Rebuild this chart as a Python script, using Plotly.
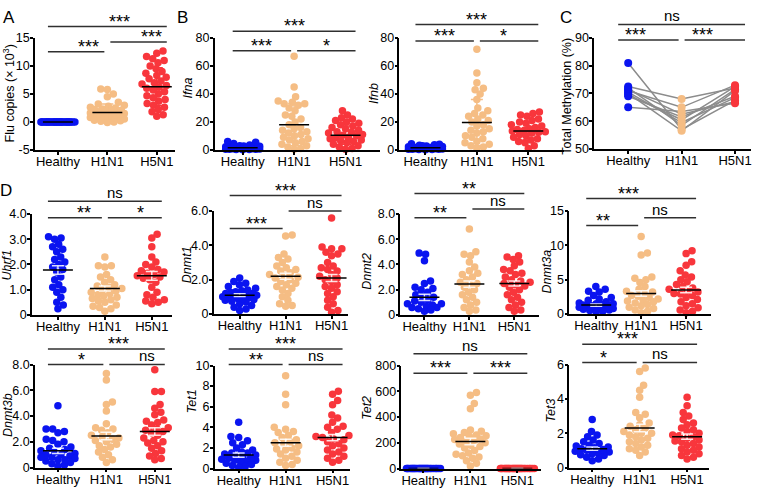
import math
import numpy as np
import plotly.graph_objects as go

W, H = 762, 493
FONT = "Liberation Sans, Arial, sans-serif"

groups = ["Healthy", "H1N1", "H5N1"]
colors = ["#0a14f0", "#f5bd84", "#f8363c"]

# ---- A: flu copies (x10^3)
flu_healthy = [0.0] * 30
flu_h1n1 = [5.9, 5.8, 5.0, 4.5, 3.5, 3.2, 3.0, 2.8, 2.6, 2.5, 2.3, 2.2, 2.0, 1.9, 1.8, 1.7, 1.5, 1.4,
            1.3, 1.2, 1.0, 0.9, 0.8, 0.7, 0.6, 0.5, 0.4, 0.3, 0.2, 0.1, 0.0, -0.1, 1.1, 1.6, 2.1]
flu_h5n1 = [12.7, 12.3, 11.7, 11.3, 11.0, 10.6, 10.0, 9.5, 9.0, 8.7, 8.3, 8.0, 7.7, 7.3, 7.0, 6.8, 6.5,
            6.2, 6.0, 5.7, 5.4, 5.0, 4.7, 4.3, 4.0, 3.7, 3.3, 3.0, 2.6, 2.2, 1.8, 1.3, 1.0]
flu_mean = [0.0, 1.7, 6.3]
flu_sd = [0.05, 1.5, 3.4]

# ---- B: Ifna / Ifnb
ifna_healthy = [0.5, 0.8, 1.0, 1.2, 1.5, 0.3, 0.6, 0.9, 1.1, 1.4, 1.8, 2.0, 2.5, 3.0, 3.5, 4.5, 5.5, 6.0,
                0.2, 0.4, 0.7, 1.3, 1.6, 2.2, 0.1, 0.5, 1.0, 2.8]
ifna_h1n1 = [67, 45, 38, 35, 34, 33, 33, 32, 30, 28, 25, 22, 20, 18, 15, 13, 12, 10, 9, 8, 7, 6, 5, 4,
             3, 2, 1, 0.5, 14, 11, 16, 24]
ifna_h5n1 = [28, 25, 23, 22, 21, 20, 19, 18, 17, 16, 15, 14, 13, 12, 11, 10, 9, 8, 7, 6, 5, 4, 3, 2, 1,
             0.5, 12.5, 10.5, 8.5, 6.5]
ifna_mean = [1.5, 18, 10.5]
ifna_sd = [1.2, 15, 6.5]

ifnb_healthy = [0.3, 0.5, 0.8, 1.0, 1.2, 1.5, 0.4, 0.7, 0.9, 1.1, 1.4, 1.7, 2.0, 2.4, 2.8, 3.2, 3.6, 4.0,
                4.3, 0.2, 0.6, 1.3, 1.9, 0.1, 0.5, 1.0, 2.2, 3.0]
ifnb_h1n1 = [72, 55, 48, 44, 43, 40, 36, 30, 28, 26, 25, 24, 22, 20, 18, 17, 15, 13, 12, 10, 9, 8, 6, 5,
             4, 3, 2, 1, 21, 14]
ifnb_h5n1 = [27, 26, 25, 24, 22, 21, 20, 19, 18, 17, 16, 15, 14, 13.5, 13, 12, 11, 10, 9, 8, 7, 6, 5, 3,
             1, 14.5, 12.5]
ifnb_mean = [1.5, 19.5, 13.5]
ifnb_sd = [1.0, 16.5, 6.5]

# ---- C: total methylation (%), paired
meth_healthy = [81.0, 72.5, 72.0, 71.5, 71.0, 70.5, 70.0, 69.5, 69.0, 65.0]
meth_h1n1 = [57.0, 68.0, 58.5, 62.5, 65.0, 59.5, 56.5, 60.5, 61.5, 63.5]
meth_h5n1 = [67.5, 72.0, 71.5, 67.0, 73.0, 68.5, 71.0, 72.5, 69.0, 66.5]

# ---- D: gene expression
uhrf1_healthy = [3.1, 3.05, 3.0, 2.8, 2.7, 2.6, 2.5, 2.3, 2.2, 2.1, 2.0, 1.9, 1.8, 1.7, 1.5, 1.4, 1.2,
                 1.1, 1.0, 0.9, 0.7, 0.5, 0.4, 0.25]
uhrf1_h1n1 = [2.3, 1.95, 1.95, 1.9, 1.6, 1.5, 1.4, 1.3, 1.2, 1.15, 1.1, 1.0, 0.95, 0.9, 0.85, 0.8, 0.75,
              0.7, 0.6, 0.55, 0.5, 0.4, 0.3, 0.25, 0.15, 1.05, 0.65, 0.35]
uhrf1_h5n1 = [3.2, 3.05, 2.7, 2.3, 2.1, 2.0, 1.9, 1.8, 1.7, 1.6, 1.55, 1.5, 1.45, 1.4, 1.3, 1.1, 0.9,
              0.8, 0.7, 0.6, 0.55, 0.5, 0.45, 1.65, 1.75]
uhrf1_mean = [1.78, 1.05, 1.55]
uhrf1_sem = [0.17, 0.1, 0.17]

dnmt1_healthy = [2.1, 1.9, 1.8, 1.7, 1.6, 1.5, 1.4, 1.35, 1.3, 1.25, 1.2, 1.15, 1.1, 1.05, 1.0, 0.95,
                 0.9, 0.85, 0.8, 0.75, 0.7, 0.6, 0.5, 0.4, 0.3, 0.2, 1.1, 1.0, 1.2, 0.9]
dnmt1_h1n1 = [4.6, 4.55, 3.5, 3.3, 3.2, 3.0, 2.8, 2.6, 2.5, 2.4, 2.3, 2.2, 2.1, 2.0, 1.9, 1.8, 1.7, 1.6,
              1.5, 1.4, 1.2, 1.0, 0.8, 0.6, 0.5, 0.45, 2.7, 2.15]
dnmt1_h5n1 = [5.6, 3.9, 3.8, 3.8, 3.6, 3.5, 3.4, 3.0, 2.8, 2.6, 2.5, 2.3, 2.2, 2.1, 2.0, 1.9, 1.7, 1.6,
              1.5, 1.3, 1.2, 1.0, 0.8, 0.6, 0.4, 0.2, 0.1, 2.7]
dnmt1_mean = [1.1, 2.2, 2.1]
dnmt1_sem = [0.08, 0.18, 0.2]

dnmt2_healthy = [4.9, 4.8, 4.3, 2.7, 2.5, 2.2, 2.0, 1.8, 1.6, 1.4, 1.2, 1.1, 1.0, 0.9, 0.8, 0.7, 0.6,
                 0.5, 0.4, 0.3, 2.1, 1.5, 0.9, 0.6]
dnmt2_h1n1 = [6.8, 5.0, 4.8, 4.7, 4.2, 3.8, 3.5, 3.3, 3.0, 2.8, 2.6, 2.4, 2.2, 2.0, 1.8, 1.6, 1.4, 1.2,
              1.0, 0.8, 0.6, 0.4, 0.3, 2.5, 3.2]
dnmt2_h5n1 = [4.7, 4.6, 4.4, 4.2, 3.9, 3.6, 3.3, 3.2, 3.0, 2.8, 2.6, 2.5, 2.4, 2.3, 2.2, 2.0, 1.8, 1.6,
              1.4, 1.2, 1.0, 0.8, 0.6, 0.4, 0.3, 2.7, 3.5]
dnmt2_mean = [1.4, 2.45, 2.5]
dnmt2_sem = [0.25, 0.25, 0.2]

dnmt3a_healthy = [4.0, 3.6, 3.3, 3.2, 2.7, 2.4, 2.2, 2.0, 1.8, 1.6, 1.5, 1.4, 1.3, 1.2, 1.1, 1.0, 0.9,
                  0.8, 0.7, 0.6, 0.5, 0.4, 0.3, 1.5, 1.2, 1.0, 0.8]
dnmt3a_h1n1 = [11.3, 8.9, 8.6, 5.4, 5.2, 5.0, 4.6, 4.0, 3.6, 3.3, 3.0, 2.7, 2.4, 2.2, 2.0, 1.8, 1.6, 1.4,
               1.2, 1.0, 0.8, 0.6, 0.4, 0.2, 3.2, 2.6, 1.9]
dnmt3a_h5n1 = [9.2, 8.8, 7.6, 7.1, 6.3, 5.7, 5.4, 5.0, 4.7, 4.3, 4.0, 3.6, 3.3, 3.0, 2.7, 2.4, 2.1, 1.8,
               1.5, 1.2, 0.9, 0.6, 0.4, 0.2, 3.8, 3.2, 2.9]
dnmt3a_mean = [1.3, 3.0, 3.5]
dnmt3a_sem = [0.17, 0.4, 0.4]

dnmt3b_healthy = [4.8, 3.0, 3.0, 2.8, 2.7, 2.2, 2.1, 2.0, 1.8, 1.6, 1.5, 1.4, 1.3, 1.2, 1.1, 1.0, 0.9,
                  0.8, 0.7, 0.6, 0.5, 0.4, 0.3, 0.2, 0.1, 1.0, 0.8, 0.6]
dnmt3b_h1n1 = [7.3, 6.8, 5.1, 4.9, 4.4, 3.4, 3.1, 2.9, 2.7, 2.5, 2.3, 2.1, 2.0, 1.8, 1.6, 1.4, 1.2, 1.0,
               0.8, 0.6, 0.4, 2.4, 2.2, 1.7, 3.0]
dnmt3b_h5n1 = [7.6, 5.9, 5.9, 4.9, 4.6, 4.3, 4.1, 3.7, 3.5, 3.3, 3.1, 2.9, 2.7, 2.5, 2.3, 2.1, 1.9, 1.7,
               1.5, 1.3, 1.1, 0.9, 0.7, 0.6, 3.6, 2.8, 2.0, 3.0]
dnmt3b_mean = [1.3, 2.45, 2.8]
dnmt3b_sem = [0.2, 0.3, 0.3]

tet1_healthy = [4.5, 3.1, 3.0, 2.7, 2.5, 2.3, 2.0, 1.8, 1.6, 1.5, 1.4, 1.3, 1.2, 1.1, 1.0, 0.9, 0.8,
                0.7, 0.6, 0.5, 0.4, 0.3, 0.2, 0.1, 1.0, 0.8, 1.5]
tet1_h1n1 = [9.0, 7.2, 6.2, 4.0, 3.8, 3.5, 3.2, 3.0, 2.8, 2.6, 2.4, 2.2, 2.0, 1.8, 1.6, 1.4, 1.2, 1.0,
             0.8, 0.6, 0.4, 0.3, 2.5, 3.6, 1.9]
tet1_h5n1 = [7.5, 7.2, 6.6, 6.2, 5.2, 4.9, 4.5, 4.1, 3.8, 3.5, 3.2, 3.0, 2.8, 2.6, 2.4, 2.2, 2.0, 1.8,
             1.6, 1.4, 1.2, 1.0, 0.8, 0.6, 3.1, 2.9, 4.0]
tet1_mean = [1.3, 2.5, 3.0]
tet1_sem = [0.2, 0.35, 0.3]

tet2_healthy = [0.0] * 28
tet2_h1n1 = [590, 570, 505, 465, 300, 290, 280, 270, 260, 250, 240, 230, 220, 210, 200, 190, 180, 170,
             160, 140, 120, 100, 80, 60, 40, 20, 110, 90, 225, 255]
tet2_h5n1 = [0.0] * 28
tet2_mean = [0.0, 210, 0.0]
tet2_sem = [0.0, 25, 0.0]

tet3_healthy = [2.8, 2.1, 1.9, 1.8, 1.6, 1.5, 1.4, 1.3, 1.25, 1.2, 1.1, 1.0, 0.95, 0.9, 0.85, 0.8, 0.7,
                0.6, 0.5, 0.4, 1.05, 1.15, 0.75]
tet3_h1n1 = [5.8, 5.6, 4.8, 4.5, 4.1, 3.2, 3.1, 2.9, 2.6, 2.4, 2.3, 2.2, 2.1, 2.0, 1.9, 1.8, 1.7, 1.6,
             1.5, 1.4, 1.3, 1.2, 1.1, 1.0, 0.9, 0.7, 2.5, 2.0]
tet3_h5n1 = [4.1, 3.6, 3.2, 3.0, 2.8, 2.6, 2.5, 2.3, 2.2, 2.1, 2.0, 1.9, 1.8, 1.7, 1.6, 1.5, 1.4, 1.3,
             1.2, 1.1, 1.0, 0.9, 0.8, 0.7, 0.6, 0.5, 1.85, 1.55]
tet3_mean = [1.1, 2.3, 1.8]
tet3_sem = [0.1, 0.22, 0.15]

# panel layout: (y-axis x px, x-axis right px, first cat px, last cat px, top px, bottom px)
panels = [
    dict(data=[flu_healthy, flu_h1n1, flu_h5n1], mean=flu_mean, err=flu_sd, sd=True,
         yrange=[-5, 15], ticks=[-5, 0, 5, 10, 15], ticktext=["-5", "0", "5", "10", "15"],
         title="Flu copies (× 10<sup>3</sup>)", geom=(35, 175, 58, 157, 32, 147), tpos=(9, 89),
         sig=[(0, 1, "***", 46), (1, 2, "***", 36), (0, 2, "***", 20)], letter=("A", 9, 11)),
    dict(data=[ifna_healthy, ifna_h1n1, ifna_h5n1], mean=ifna_mean, err=ifna_sd, sd=True,
         yrange=[0, 80], ticks=[0, 20, 40, 60, 80], ticktext=["0", "20", "40", "60", "80"],
         title="<i>Ifna</i>", geom=(215, 380, 243, 346, 32, 147), tpos=(188, 83),
         sig=[(0, 1, "***", 45), (1, 2, "*", 45), (0, 2, "***", 25)], letter=("B", 183, 11)),
    dict(data=[ifnb_healthy, ifnb_h1n1, ifnb_h5n1], mean=ifnb_mean, err=ifnb_sd, sd=True,
         yrange=[0, 80], ticks=[0, 20, 40, 60, 80], ticktext=["0", "20", "40", "60", "80"],
         title="<i>Ifnb</i>", geom=(400, 565, 426, 529, 32, 147), tpos=(375, 89),
         sig=[(0, 1, "***", 35), (1, 2, "*", 35), (0, 2, "***", 18)], letter=None),
    dict(paired=[meth_healthy, meth_h1n1, meth_h5n1],
         yrange=[50, 90], ticks=[50, 60, 70, 80, 90], ticktext=["50", "60", "70", "80", "90"],
         title="Total Methylation (%)", geom=(595, 752, 629, 736, 32, 146), tpos=(568, 92),
         sig=[(0, 1, "***", 34), (1, 2, "***", 34), (0, 2, "ns", 18)], letter=("C", 567, 11)),
    dict(data=[uhrf1_healthy, uhrf1_h1n1, uhrf1_h5n1], mean=uhrf1_mean, err=uhrf1_sem, sd=False,
         yrange=[0, 4], ticks=[0, 1, 2, 3, 4], ticktext=["0", "1.0", "2.0", "3.0", "4.0"],
         title="<i>Uhrf1</i>", geom=(32, 172, 58, 152, 213, 317), tpos=(7, 265),
         sig=[(0, 1, "**", 217), (1, 2, "*", 217), (0, 2, "ns", 200)], letter=("D", 6, 189)),
    dict(data=[dnmt1_healthy, dnmt1_h1n1, dnmt1_h5n1], mean=dnmt1_mean, err=dnmt1_sem, sd=False,
         yrange=[0, 6], ticks=[0, 2, 4, 6], ticktext=["0", "2.0", "4.0", "6.0"],
         title="<i>Dnmt1</i>", geom=(214, 348, 240, 332, 210, 316), tpos=(188, 265),
         sig=[(0, 1, "***", 228), (1, 2, "ns", 210), (0, 2, "***", 194)], letter=None),
    dict(data=[dnmt2_healthy, dnmt2_h1n1, dnmt2_h5n1], mean=dnmt2_mean, err=dnmt2_sem, sd=False,
         yrange=[0, 8], ticks=[0, 2, 4, 6, 8], ticktext=["0", "2.0", "4.0", "6.0", "8.0"],
         title="<i>Dnmt2</i>", geom=(401, 540, 425, 515, 213, 317), tpos=(368, 272),
         sig=[(0, 1, "**", 217), (1, 2, "ns", 208), (0, 2, "**", 192)], letter=None),
    dict(data=[dnmt3a_healthy, dnmt3a_h1n1, dnmt3a_h5n1], mean=dnmt3a_mean, err=dnmt3a_sem, sd=False,
         yrange=[0, 15], ticks=[0, 5, 10, 15], ticktext=["0", "5", "10", "15"],
         title="<i>Dnmt3a</i>", geom=(570, 712, 597, 687, 210, 316), tpos=(548, 272),
         sig=[(0, 1, "**", 225), (1, 2, "ns", 217), (0, 2, "***", 197)], letter=None),
    dict(data=[dnmt3b_healthy, dnmt3b_h1n1, dnmt3b_h5n1], mean=dnmt3b_mean, err=dnmt3b_sem, sd=False,
         yrange=[0, 8], ticks=[0, 2, 4, 6, 8], ticktext=["0", "2.0", "4.0", "6.0", "8.0"],
         title="<i>Dnmt3b</i>", geom=(35, 172, 58, 155, 368, 474), tpos=(8, 420),
         sig=[(0, 1, "*", 368), (1, 2, "ns", 368), (0, 2, "***", 352)], letter=None),
    dict(data=[tet1_healthy, tet1_h1n1, tet1_h5n1], mean=tet1_mean, err=tet1_sem, sd=False,
         yrange=[0, 10], ticks=[0, 2, 4, 6, 8, 10], ticktext=["0", "2", "4", "6", "8", "10"],
         title="<i>Tet1</i>", geom=(215, 350, 239, 333, 369, 475), tpos=(193, 406),
         sig=[(0, 1, "**", 368), (1, 2, "ns", 368), (0, 2, "***", 352)], letter=None),
    dict(data=[tet2_healthy, tet2_h1n1, tet2_h5n1], mean=tet2_mean, err=tet2_sem, sd=False,
         yrange=[0, 800], ticks=[0, 200, 400, 600, 800], ticktext=["0", "200", "400", "600", "800"],
         title="<i>Tet2</i>", geom=(402, 542, 424, 518, 369, 475), tpos=(368, 413),
         sig=[(0, 1, "***", 377), (1, 2, "***", 377), (0, 2, "ns", 357)], letter=None),
    dict(data=[tet3_healthy, tet3_h1n1, tet3_h5n1], mean=tet3_mean, err=tet3_sem, sd=False,
         yrange=[0, 6], ticks=[0, 2, 4, 6], ticktext=["0", "2", "4", "6"],
         title="<i>Tet3</i>", geom=(570, 710, 593, 688, 368, 474), tpos=(552, 415),
         sig=[(0, 1, "*", 366), (1, 2, "ns", 366), (0, 2, "***", 347)], letter=None),
]


def swarm(vals, ppy, d=6.6, maxw=17.0):
    # simple beeswarm: returns horizontal offsets in pixels
    vals = np.asarray(vals, dtype=float)
    order = np.argsort(vals, kind="stable")
    placed = []
    offs = np.zeros(len(vals))
    for idx in order:
        y = vals[idx] * ppy
        cands = [0.0]
        for px, py in placed:
            dy = abs(py - y)
            if dy < d:
                dx = math.sqrt(d * d - dy * dy)
                cands += [px + dx, px - dx]
        good = [c for c in cands if abs(c) <= maxw and
                all((c - px) ** 2 + (y - py) ** 2 >= d * d - 1e-6 for px, py in placed)]
        if good:
            x = min(good, key=abs)
        else:
            grid = np.linspace(-maxw, maxw, 35)
            x = max(grid, key=lambda g: min((g - px) ** 2 + (y - py) ** 2 for px, py in placed))
        placed.append((x, y))
        offs[idx] = x
    return offs


fig = go.Figure()
shapes = []
annotations = []
layout_axes = {}

for k, p in enumerate(panels, start=1):
    sx = "" if k == 1 else str(k)
    xa, ya = "x" + sx, "y" + sx
    x0, x1, c0, c2, yt, yb = p["geom"]
    ppx = (c2 - c0) / 2.0
    y_lo, y_hi = p["yrange"]
    ppy = (yb - yt) / (y_hi - y_lo)

    layout_axes["xaxis" + sx] = dict(
        domain=[x0 / W, x1 / W], range=[-(c0 - x0) / ppx, 2 + (x1 - c2) / ppx], anchor=ya,
        tickvals=[0, 1, 2], ticktext=groups, showline=True, linecolor="black", linewidth=1.5,
        ticks="outside", ticklen=3, tickwidth=1.5, tickcolor="black", showgrid=False,
        zeroline=False, tickfont=dict(family=FONT, size=13, color="black"), fixedrange=True,
        ticklabelstandoff=-4)
    layout_axes["yaxis" + sx] = dict(
        domain=[1 - yb / H, 1 - yt / H], range=[y_lo, y_hi], anchor=xa,
        tickvals=p["ticks"], ticktext=p["ticktext"], showline=True, linecolor="black",
        linewidth=1.5, ticks="outside", ticklen=3, tickwidth=1.5, tickcolor="black",
        showgrid=False, zeroline=False, tickfont=dict(family=FONT, size=12.5, color="black"),
        fixedrange=True, ticklabelstandoff=-2)

    if "paired" in p:
        h, a, b = p["paired"]
        for i in range(len(h)):
            fig.add_trace(go.Scatter(x=[0, 1, 2], y=[h[i], a[i], b[i]], mode="lines",
                                     line=dict(color="#8c8c8c", width=1.5), xaxis=xa, yaxis=ya,
                                     showlegend=False, hoverinfo="skip", cliponaxis=False))
        for g, vals in enumerate(p["paired"]):
            fig.add_trace(go.Scatter(x=[g] * len(vals), y=vals, mode="markers",
                                     marker=dict(size=8, color=colors[g]), xaxis=xa, yaxis=ya,
                                     showlegend=False, cliponaxis=False))
    else:
        for g, vals in enumerate(p["data"]):
            offs = swarm(vals, ppy)
            fig.add_trace(go.Scatter(x=g + offs / ppx, y=vals, mode="markers",
                                     marker=dict(size=7.5, color=colors[g]), xaxis=xa, yaxis=ya,
                                     showlegend=False, cliponaxis=False))
        for g in range(3):
            m, e = p["mean"][g], p["err"][g]
            cw = 6 / ppx
            ecol = colors[g] if p["sd"] else "rgba(255,255,255,0.85)"
            fig.add_trace(go.Scatter(
                x=[g, g, None, g - cw, g + cw, None, g - cw, g + cw],
                y=[m - e, m + e, None, m + e, m + e, None, m - e, m - e],
                mode="lines", line=dict(color=ecol, width=1.5), xaxis=xa, yaxis=ya,
                showlegend=False, hoverinfo="skip", cliponaxis=False))
            hw = 15 / ppx
            fig.add_trace(go.Scatter(x=[g - hw, g + hw], y=[m, m], mode="lines",
                                     line=dict(color="black", width=1.5), xaxis=xa, yaxis=ya,
                                     showlegend=False, hoverinfo="skip", cliponaxis=False))

    # significance bars
    cat_px = [c0 + i * ppx for i in range(3)]
    for i, j, label, ly in p["sig"]:
        left = cat_px[i] - 10 if i == 0 else cat_px[i] + 3
        right = cat_px[j] + 10 if j == 2 else cat_px[j] - 3
        shapes.append(dict(type="line", xref="paper", yref="paper", x0=left / W, x1=right / W,
                           y0=1 - ly / H, y1=1 - ly / H, line=dict(color="#303030", width=1.5)))
        if label == "ns":
            annotations.append(dict(text="ns", xref="paper", yref="paper", x=(left + right) / 2 / W,
                                    y=1 - (ly - 9) / H, showarrow=False, yanchor="middle",
                                    font=dict(family=FONT, size=15, color="black")))
        else:
            annotations.append(dict(text=label, xref="paper", yref="paper", x=(left + right) / 2 / W,
                                    y=1 - (ly - 5) / H, showarrow=False, yanchor="middle",
                                    font=dict(family=FONT, size=18, color="black")))

    tx, ty = p["tpos"]
    annotations.append(dict(text=p["title"], xref="paper", yref="paper", x=tx / W, y=1 - ty / H,
                            textangle=-90, showarrow=False, xanchor="center", yanchor="middle",
                            font=dict(family=FONT, size=12.5, color="black")))
    if p["letter"]:
        lt, lx, lyy = p["letter"]
        annotations.append(dict(text=lt, xref="paper", yref="paper", x=lx / W, y=1 - lyy / H,
                                showarrow=False, xanchor="center", yanchor="middle",
                                font=dict(family=FONT, size=17, color="black")))

fig.update_layout(width=W, height=H, margin=dict(l=0, r=0, t=0, b=0), plot_bgcolor="white",
                  paper_bgcolor="white", showlegend=False, shapes=shapes, annotations=annotations,
                  **layout_axes)

# drop the default 8px page margin so the figure fills the window exactly
fig.write_html("out.html", config={"displayModeBar": False},
               post_script="document.body.style.margin='0';")
